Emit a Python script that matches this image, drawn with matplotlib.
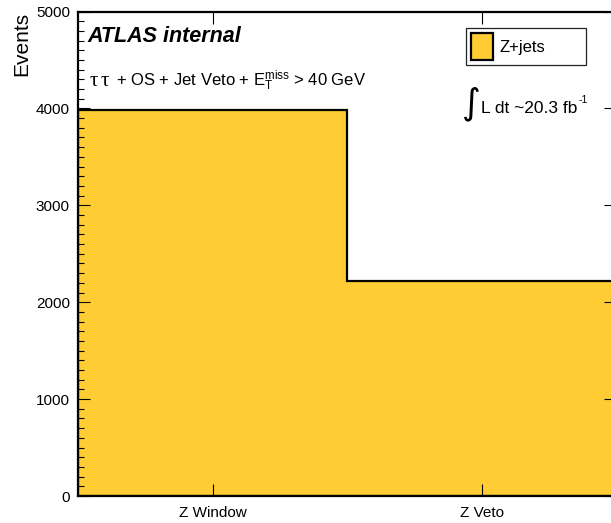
import numpy as np
import matplotlib
matplotlib.use("Agg")
import matplotlib.pyplot as plt

# ---- data ----
categories = ["Z Window", "Z Veto"]
zjets = [3983, 2215]
y_ticks = [0, 1000, 2000, 3000, 4000, 5000]
legend_label = "Z+jets"

plt.rcParams['font.family'] = ['Liberation Sans', 'DejaVu Sans']
plt.rcParams['mathtext.fontset'] = 'custom'
plt.rcParams['mathtext.rm'] = 'Liberation Sans'
plt.rcParams['mathtext.it'] = 'Liberation Sans:italic'
plt.rcParams['mathtext.bf'] = 'Liberation Sans:bold'

W, H = 611, 523
fig = plt.figure(figsize=(W / 100, H / 100), dpi=100)

def fx(px):
    return px / W

def fy(py):
    return 1 - py / H

ax = fig.add_axes([fx(78), fy(496), (616 - 78) / W, (496 - 11.5) / H])

edges = np.arange(len(categories) + 1)
centers = edges[:-1] + 0.5
ax.hist(centers, bins=edges, weights=zjets, histtype='stepfilled',
        facecolor='#ffcc33', edgecolor='black', linewidth=1.6, label=legend_label)

ax.set_xlim(edges[0], edges[-1])
ax.set_ylim(y_ticks[0], y_ticks[-1])
ax.set_xticks(centers)
ax.set_xticklabels(categories)
ax.set_yticks(y_ticks)
ax.set_yticks(np.arange(y_ticks[0], y_ticks[-1] + 1, 100), minor=True)

for s in ax.spines.values():
    s.set_linewidth(1.6)

ax.tick_params(axis='both', which='major', direction='in', length=8.6, width=0.8,
               labelsize=11)
ax.tick_params(axis='y', which='major', right=True, left=True, pad=5.8)
ax.tick_params(axis='y', which='minor', direction='in', length=4.3, width=0.8,
               left=True, right=False)
ax.tick_params(axis='x', which='major', top=True, bottom=True, pad=7)
ax.tick_params(axis='x', which='minor', bottom=False, top=False)

ax.set_ylabel("Events", fontsize=15, loc='top')
ax.yaxis.set_label_coords(-0.0864, 1.0)

# legend
leg = ax.legend(loc='upper left',
                bbox_to_anchor=(fx(466), fy(73), 120 / W, 45 / H),
                bbox_transform=fig.transFigure, mode='expand', borderaxespad=0,
                fancybox=False, frameon=True, edgecolor='#222222', framealpha=1,
                fontsize=12, borderpad=0.3, handlelength=1.3, handleheight=2.1,
                handletextpad=0.4)
leg.get_frame().set_linewidth(0.9)

# texts
fig.text(fx(87), fy(41.7), "ATLAS internal", fontsize=15.5, fontweight='bold',
         fontstyle='italic', va='baseline', ha='left')
fig.text(fx(90), fy(86), "\u03c4", fontsize=15, va='baseline', ha='left',
         family='Liberation Serif')
fig.text(fx(101), fy(86), "\u03c4", fontsize=15, va='baseline', ha='left',
         family='Liberation Serif')
fig.text(fx(116), fy(86),
         r"+ OS + Jet Veto + E$_{\mathrm{T}}^{\mathrm{miss}}$ > 40 GeV",
         fontsize=12, va='baseline', ha='left')
fig.text(fx(462), fy(113), "\u222b", fontsize=26, va='baseline', ha='left',
         family='DejaVu Sans')
lumi = fig.text(fx(481), fy(113), "L dt ~20.3 fb", fontsize=12.5,
                va='baseline', ha='left')
ax.annotate("-1", xy=(1, 1), xycoords=lumi, xytext=(0.8, 4),
            textcoords='offset points', fontsize=7.5, va='top', ha='left')

fig.savefig("out.png", dpi=100)
